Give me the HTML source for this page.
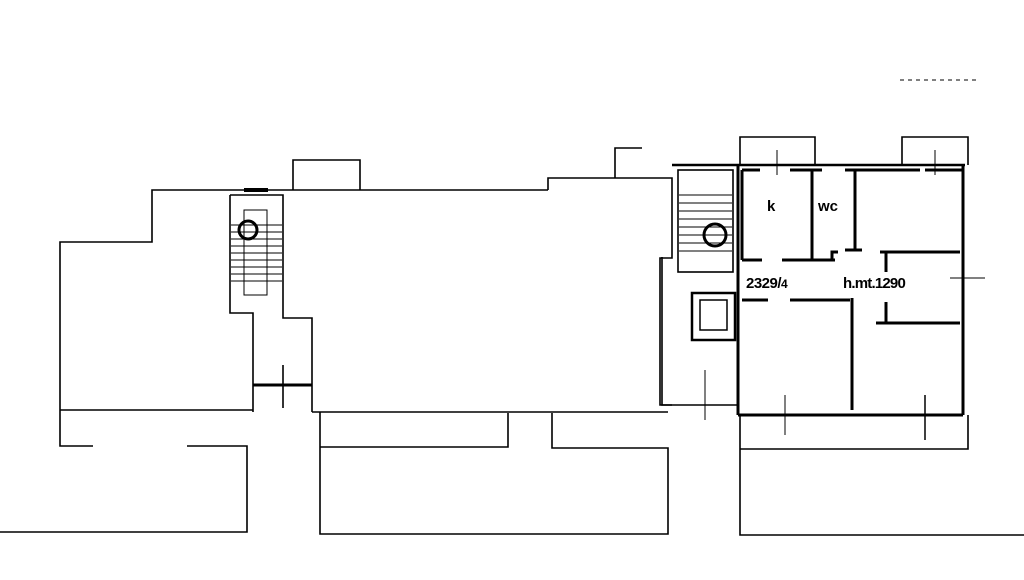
<!DOCTYPE html>
<html><head><meta charset="utf-8"><style>
html,body{margin:0;padding:0;background:#fff;width:1024px;height:580px;overflow:hidden}
svg{display:block}
text{font-family:"Liberation Sans",sans-serif;fill:#000}
</style></head><body>
<svg width="1024" height="580" viewBox="0 0 1024 580" xmlns="http://www.w3.org/2000/svg">
<g fill="none" stroke="#000" stroke-width="1.6">
<!-- left block -->
<polyline points="60,410 60,242 152,242 152,190 548,190"/>
<polyline points="548,190 548,178 672,178 672,258 660,258 660,405 672,405"/>
<line x1="60" y1="410" x2="253" y2="410"/>
<!-- left stair -->
<polyline points="230,195 283,195 283,318 312,318 312,412"/>
<polyline points="230,195 230,313 253,313 253,412"/>
<line x1="253" y1="385" x2="312" y2="385" stroke-width="3"/>
<line x1="283" y1="365" x2="283" y2="408"/>
<line x1="244" y1="190" x2="268" y2="190" stroke-width="4"/>
<rect x="244" y="210" width="23" height="85" stroke-width="1"/>
<g stroke-width="1">
<line x1="231" y1="225" x2="282" y2="225"/><line x1="231" y1="232" x2="282" y2="232"/>
<line x1="231" y1="239" x2="282" y2="239"/><line x1="231" y1="246" x2="282" y2="246"/>
<line x1="231" y1="253" x2="282" y2="253"/><line x1="231" y1="260" x2="282" y2="260"/>
<line x1="231" y1="267" x2="282" y2="267"/><line x1="231" y1="274" x2="282" y2="274"/>
<line x1="231" y1="281" x2="282" y2="281"/>
</g>
<circle cx="248" cy="230" r="9" stroke-width="3"/>
<!-- top small rect -->
<polyline points="293,190 293,160 360,160 360,190"/>
<polyline points="615,178 615,148 642,148"/>
<!-- middle block -->
<line x1="312" y1="412" x2="668" y2="412"/>
<!-- lower areas -->
<polyline points="60,410 60,446 93,446"/>
<polyline points="187,446 247,446 247,532 0,532"/>
<polyline points="320,412 320,534 668,534 668,448 552,448 552,413"/>
<polyline points="320,447 508,447 508,413"/>
<polyline points="740,415 740,535 1024,535"/>
<polyline points="740,449 968,449 968,415"/>
<!-- right building -->
<line x1="672" y1="165" x2="965" y2="165" stroke-width="2.5"/>
<line x1="963" y1="165" x2="963" y2="415" stroke-width="3"/>
<line x1="738" y1="415" x2="963" y2="415" stroke-width="3"/>
<line x1="738" y1="165" x2="738" y2="415" stroke-width="3"/>
<rect x="678" y="170" width="55" height="102"/>
<g stroke-width="1">
<line x1="679" y1="195" x2="732" y2="195"/><line x1="679" y1="203" x2="732" y2="203"/>
<line x1="679" y1="211" x2="732" y2="211"/><line x1="679" y1="219" x2="732" y2="219"/>
<line x1="679" y1="227" x2="732" y2="227"/><line x1="679" y1="235" x2="732" y2="235"/>
<line x1="679" y1="243" x2="732" y2="243"/><line x1="679" y1="251" x2="732" y2="251"/>
</g>
<circle cx="715" cy="235" r="11" stroke-width="3"/>
<rect x="692" y="293" width="43" height="47" stroke-width="2.5"/>
<rect x="700" y="300" width="27" height="30" stroke-width="1.5"/>
<polyline points="662,257 662,405 738,405"/>
<line x1="705" y1="370" x2="705" y2="420" stroke-width="1"/>
<!-- rooms -->
<line x1="742" y1="170" x2="742" y2="260" stroke-width="3"/>
<line x1="742" y1="170" x2="760" y2="170" stroke-width="3"/>
<line x1="790" y1="170" x2="822" y2="170" stroke-width="3"/>
<line x1="812" y1="170" x2="812" y2="260" stroke-width="3"/>
<line x1="742" y1="260" x2="762" y2="260" stroke-width="3"/>
<line x1="782" y1="260" x2="835" y2="260" stroke-width="3"/>
<polyline points="832,260 832,252 838,252" stroke-width="3"/>
<line x1="855" y1="170" x2="855" y2="250" stroke-width="3"/>
<line x1="845" y1="250" x2="862" y2="250" stroke-width="3"/>
<line x1="845" y1="170" x2="920" y2="170" stroke-width="3"/>
<line x1="925" y1="170" x2="963" y2="170" stroke-width="3"/>
<line x1="880" y1="252" x2="960" y2="252" stroke-width="3"/>
<line x1="886" y1="252" x2="886" y2="272" stroke-width="3"/>
<line x1="886" y1="302" x2="886" y2="323" stroke-width="3"/>
<line x1="876" y1="323" x2="960" y2="323" stroke-width="3"/>
<line x1="742" y1="300" x2="768" y2="300" stroke-width="3"/>
<line x1="790" y1="300" x2="850" y2="300" stroke-width="3"/>
<line x1="852" y1="298" x2="852" y2="410" stroke-width="3"/>
<!-- top projections -->
<polyline points="740,165 740,137 815,137 815,165"/>
<polyline points="902,165 902,137 968,137 968,165"/>
<line x1="777" y1="150" x2="777" y2="175" stroke-width="1"/>
<line x1="935" y1="150" x2="935" y2="175" stroke-width="1"/>
<line x1="785" y1="395" x2="785" y2="435" stroke-width="1"/>
<line x1="925" y1="395" x2="925" y2="440" stroke-width="1.5"/>
<line x1="950" y1="278" x2="985" y2="278" stroke-width="1"/>
<line x1="900" y1="80" x2="980" y2="80" stroke-width="1" stroke-dasharray="4 4"/>
</g>
<text x="767" y="211" font-size="15" font-weight="bold">k</text>
<text x="818" y="211" font-size="15" font-weight="bold">wc</text>
<text x="746" y="288" font-size="15" font-weight="bold" letter-spacing="-0.5">2329/<tspan font-size="12">4</tspan></text>
<text x="843" y="288" font-size="15" font-weight="bold" letter-spacing="-0.8">h.mt.1290</text>
</svg>
</body></html>
